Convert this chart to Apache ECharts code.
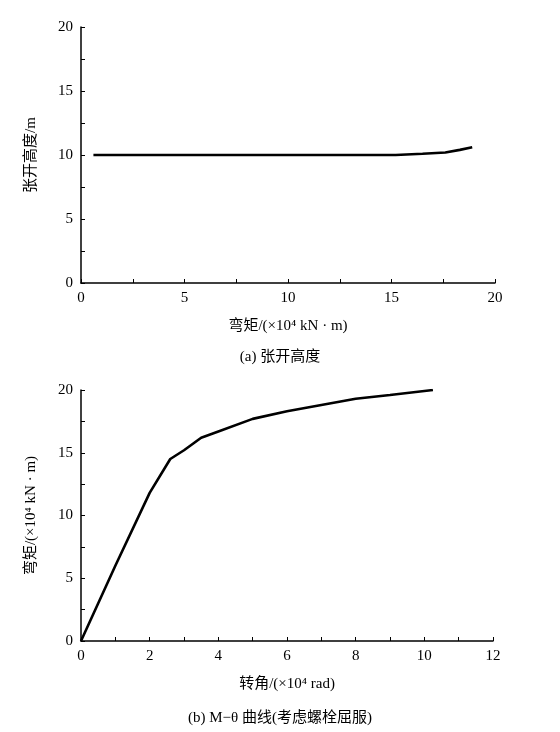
<!DOCTYPE html>
<html><head><meta charset="utf-8">
<script src="https://cdn.jsdelivr.net/npm/echarts@6/dist/echarts.min.js"></script>
<style>html,body{margin:0;background:#fff}#c{width:560px;height:732px}</style></head>
<body><div id="c"></div>
<script>
const topX = [0.6, 3, 6, 9, 12, 15.2, 16.5, 17.6, 18.3, 18.9];
const topY = [10, 10, 10, 10, 10, 10, 10.1, 10.2, 10.4, 10.6];
const botX = [0, 1, 2, 2.6, 3, 3.5, 4, 5, 6, 7, 8, 9, 10.25];
const botY = [0, 6, 11.8, 14.5, 15.2, 16.2, 16.7, 17.7, 18.3, 18.8, 19.3, 19.6, 20];
const F = '"Liberation Serif","Noto Sans CJK SC",serif';
const ax = (extra) => Object.assign({
  axisLine:{lineStyle:{color:'#000',width:1.5}},
  axisTick:{inside:true,length:4,lineStyle:{color:'#000'}},
  minorTick:{show:true,splitNumber:2,length:4,lineStyle:{color:'#000'}},
  axisLabel:{color:'#000',fontFamily:F,fontSize:15},
  splitLine:{show:false},
  nameTextStyle:{color:'#000',fontFamily:F,fontSize:15}
}, extra);
const chart = echarts.init(document.getElementById('c'));
chart.setOption({
  animation:false,
  grid:[{left:81,right:65,top:27,height:256},{left:81,right:67,top:390,height:251}],
  title:[
    {text:'(a) 张开高度',left:'center',top:345,textStyle:{fontFamily:F,fontSize:15,fontWeight:'normal',color:'#000'}},
    {text:'(b) M−θ 曲线(考虑螺栓屈服)',left:'center',top:706,textStyle:{fontFamily:F,fontSize:15,fontWeight:'normal',color:'#000'}}
  ],
  xAxis:[
    ax({gridIndex:0,type:'value',min:0,max:20,interval:5,name:'弯矩/(×10⁴ kN · m)',nameLocation:'middle',nameGap:36}),
    ax({gridIndex:1,type:'value',min:0,max:12,interval:2,name:'转角/(×10⁴ rad)',nameLocation:'middle',nameGap:36})
  ],
  yAxis:[
    ax({gridIndex:0,type:'value',min:0,max:20,interval:5,name:'张开高度/m',nameLocation:'middle',nameGap:42}),
    ax({gridIndex:1,type:'value',min:0,max:20,interval:5,name:'弯矩/(×10⁴ kN · m)',nameLocation:'middle',nameGap:42})
  ],
  series:[
    {type:'line',xAxisIndex:0,yAxisIndex:0,data:topX.map((x,i)=>[x,topY[i]]),showSymbol:false,lineStyle:{color:'#000',width:2.6}},
    {type:'line',xAxisIndex:1,yAxisIndex:1,data:botX.map((x,i)=>[x,botY[i]]),showSymbol:false,lineStyle:{color:'#000',width:2.6}}
  ]
});
</script></body></html>
